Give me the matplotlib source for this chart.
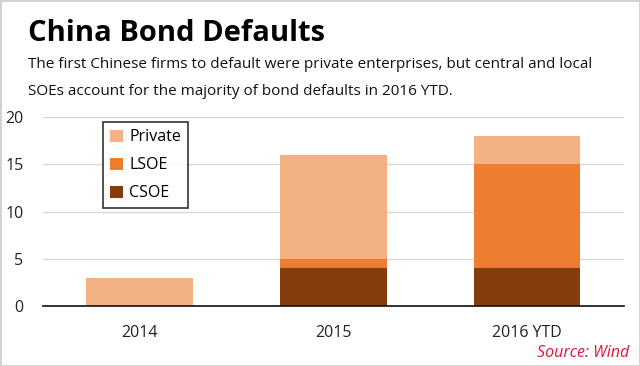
import matplotlib
matplotlib.use("Agg")
import matplotlib.pyplot as plt
from matplotlib.patches import Rectangle
import numpy as np

categories = ["2014", "2015", "2016 YTD"]
csoe = [0, 4, 4]
lsoe = [0, 1, 11]
private = [3, 11, 3]
yticks = [0, 5, 10, 15, 20]

c_private = "#F4B183"
c_lsoe = "#ED7D31"
c_csoe = "#843C0C"

plt.rcParams['font.family'] = ['Open Sans', 'DejaVu Sans']

fig = plt.figure(figsize=(6.4, 3.66), dpi=100)
fig.patches.append(Rectangle((0, 0), 1, 1, transform=fig.transFigure, fill=False,
                             edgecolor="#d0d0d0", linewidth=2))

ax = fig.add_axes([0.067, 0.164, 0.908, 0.516])
x = np.arange(len(categories))
w = 0.55
b1 = ax.bar(x, csoe, w, color=c_csoe, label="CSOE", zorder=3)
b2 = ax.bar(x, lsoe, w, bottom=csoe, color=c_lsoe, label="LSOE", zorder=3)
bottom2 = np.array(csoe) + np.array(lsoe)
b3 = ax.bar(x, private, w, bottom=bottom2, color=c_private, label="Private", zorder=3)

ax.set_xlim(-0.5, len(categories) - 0.5)
ax.set_ylim(0, 20)
ax.set_yticks(yticks)
ax.set_xticks(x)
ax.set_xticklabels(categories)
ax.tick_params(axis='both', length=0, labelsize=11.5, colors="#222222")
ax.tick_params(axis='y', pad=14)
ax.tick_params(axis='x', pad=14)
ax.grid(axis='y', color="#d9d9d9", linewidth=1, zorder=0)
for s in ["top", "right", "left"]:
    ax.spines[s].set_visible(False)
ax.spines["bottom"].set_color("#111111")
ax.spines["bottom"].set_linewidth(1.2)
ax.spines["bottom"].set_zorder(4)

leg = ax.legend(handles=[b3, b2, b1], labels=["Private", "LSOE", "CSOE"],
                loc="upper left", bbox_to_anchor=(0.103, 0.974), borderaxespad=0,
                frameon=True, fancybox=False, edgecolor="black", fontsize=11.5,
                handlelength=0.8, handleheight=0.8, handletextpad=0.4,
                labelspacing=0.75, borderpad=0.45)
leg.get_frame().set_linewidth(1.2)

fig.text(0.044, 0.888, "China Bond Defaults", fontsize=21, fontweight="bold",
         color="black", va="baseline", ha="left")
fig.text(0.044, 0.815, "The first Chinese firms to default were private enterprises, but central and local",
         fontsize=11, color="#111111", va="baseline", ha="left")
fig.text(0.044, 0.74, "SOEs account for the majority of bond defaults in 2016 YTD.",
         fontsize=11, color="#111111", va="baseline", ha="left")
fig.text(0.983, 0.025, "Source: Wind", fontsize=11.5, style="italic", color="#E0143C",
         ha="right", va="baseline")

fig.savefig("out.png", dpi=100)
